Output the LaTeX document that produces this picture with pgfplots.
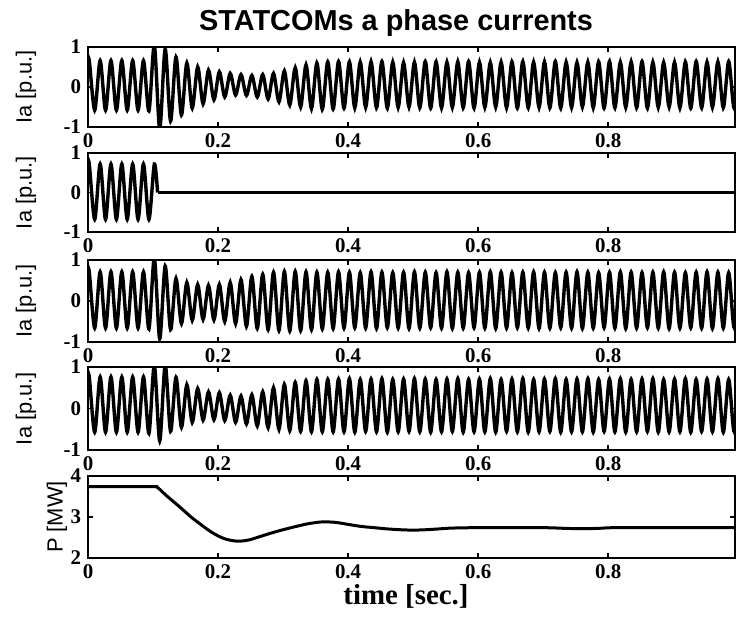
\documentclass[border=0pt]{standalone}
\usepackage{fontspec}
\setmainfont{Liberation Serif}
\setsansfont{Liberation Sans}
\usepackage{pgfplots}
\usepackage{pgfplotstable}
\pgfplotsset{compat=1.18}

% peak/trough samples of the a-phase currents (60 Hz), STATCOM 1, 3, 4
\pgfplotstableread{
t      a      c      d
0.0000  0.62  0.67  0.72
0.0020  0.66  0.71  0.76
0.0103 -0.58 -0.66 -0.57
0.0187  0.66  0.71  0.76
0.0270 -0.58 -0.66 -0.57
0.0353  0.66  0.71  0.76
0.0437 -0.58 -0.66 -0.57
0.0520  0.66  0.71  0.76
0.0603 -0.58 -0.66 -0.57
0.0687  0.66  0.71  0.76
0.0770 -0.58 -0.66 -0.57
0.0853  0.66  0.71  0.76
0.0937 -0.60 -0.68 -0.60
0.1020  1.05  1.05  1.05
0.1103 -1.05 -0.92 -0.78
0.1187  0.95  0.85  1.05
0.1270 -0.85 -0.70 -0.55
0.1353  0.75  0.55  0.75
0.1437 -0.70 -0.55 -0.45
0.1520  0.60  0.45  0.57
0.1603 -0.53 -0.47 -0.33
0.1687  0.50  0.40  0.48
0.1770 -0.42 -0.45 -0.28
0.1853  0.42  0.38  0.40
0.1937 -0.32 -0.46 -0.27
0.2020  0.38  0.40  0.38
0.2103 -0.25 -0.50 -0.29
0.2187  0.34  0.45  0.32
0.2270 -0.20 -0.55 -0.33
0.2353  0.31  0.52  0.30
0.2437 -0.21 -0.62 -0.37
0.2520  0.29  0.60  0.33
0.2603 -0.25 -0.67 -0.42
0.2687  0.31  0.65  0.40
0.2770 -0.30 -0.70 -0.46
0.2853  0.34  0.70  0.50
0.2937 -0.37 -0.72 -0.50
0.3020  0.40  0.72  0.58
0.3103 -0.45 -0.73 -0.53
0.3187  0.48  0.72  0.63
0.3270 -0.50 -0.72 -0.55
0.3353  0.55  0.71  0.67
0.3437 -0.54 -0.70 -0.56
0.3520  0.60  0.70  0.70
0.3603 -0.56 -0.68 -0.56
0.3687  0.63  0.70  0.70
0.3770 -0.55 -0.67 -0.56
0.3853  0.64  0.71  0.71
0.3937 -0.53 -0.66 -0.56
0.4020  0.63  0.70  0.72
0.4103 -0.52 -0.65 -0.57
0.4187  0.62  0.69  0.70
0.4270 -0.51 -0.66 -0.55
0.4353  0.63  0.71  0.71
0.4437 -0.52 -0.67 -0.56
0.4520  0.64  0.70  0.72
0.4603 -0.53 -0.65 -0.57
0.4687  0.62  0.69  0.70
0.4770 -0.51 -0.66 -0.56
0.4853  0.61  0.70  0.71
0.4937 -0.50 -0.67 -0.55
0.5020  0.62  0.71  0.72
0.5103 -0.52 -0.66 -0.56
0.5187  0.64  0.70  0.71
0.5270 -0.53 -0.65 -0.57
0.5353  0.63  0.69  0.70
0.5437 -0.52 -0.66 -0.56
0.5520  0.62  0.71  0.71
0.5603 -0.51 -0.67 -0.55
0.5687  0.63  0.70  0.72
0.5770 -0.52 -0.66 -0.57
0.5853  0.64  0.69  0.70
0.5937 -0.53 -0.65 -0.56
0.6020  0.62  0.70  0.71
0.6103 -0.51 -0.66 -0.56
0.6187  0.61  0.71  0.72
0.6270 -0.50 -0.67 -0.57
0.6353  0.62  0.70  0.70
0.6437 -0.52 -0.66 -0.55
0.6520  0.63  0.69  0.71
0.6603 -0.53 -0.65 -0.56
0.6687  0.64  0.70  0.72
0.6770 -0.52 -0.66 -0.57
0.6853  0.62  0.71  0.70
0.6937 -0.51 -0.67 -0.56
0.7020  0.63  0.70  0.71
0.7103 -0.52 -0.66 -0.55
0.7187  0.64  0.69  0.72
0.7270 -0.53 -0.65 -0.57
0.7353  0.62  0.70  0.70
0.7437 -0.51 -0.66 -0.56
0.7520  0.61  0.71  0.71
0.7603 -0.50 -0.67 -0.56
0.7687  0.62  0.70  0.72
0.7770 -0.52 -0.66 -0.57
0.7853  0.63  0.69  0.70
0.7937 -0.53 -0.65 -0.55
0.8020  0.64  0.70  0.71
0.8103 -0.52 -0.66 -0.56
0.8187  0.62  0.71  0.72
0.8270 -0.51 -0.67 -0.57
0.8353  0.63  0.70  0.70
0.8437 -0.52 -0.66 -0.56
0.8520  0.64  0.69  0.71
0.8603 -0.53 -0.65 -0.55
0.8687  0.62  0.70  0.72
0.8770 -0.51 -0.66 -0.57
0.8853  0.61  0.71  0.70
0.8937 -0.50 -0.67 -0.56
0.9020  0.62  0.70  0.71
0.9103 -0.52 -0.66 -0.56
0.9187  0.63  0.69  0.72
0.9270 -0.53 -0.65 -0.57
0.9353  0.64  0.70  0.70
0.9437 -0.52 -0.66 -0.55
0.9520  0.62  0.71  0.71
0.9603 -0.51 -0.67 -0.56
0.9687  0.63  0.70  0.72
0.9770 -0.52 -0.66 -0.57
0.9853  0.64  0.69  0.70
0.9937 -0.53 -0.65 -0.56
1.0020  0.62  0.70  0.71
}\iadata

% power of the generator
\pgfplotstableread{
t     p
0.000 3.74
0.100 3.74
0.106 3.73
0.112 3.65
0.120 3.53
0.140 3.26
0.160 2.98
0.170 2.86
0.180 2.74
0.190 2.63
0.200 2.54
0.210 2.47
0.220 2.43
0.230 2.41
0.240 2.42
0.250 2.45
0.260 2.50
0.280 2.60
0.300 2.69
0.320 2.77
0.340 2.84
0.360 2.88
0.380 2.87
0.400 2.82
0.420 2.77
0.440 2.74
0.460 2.71
0.480 2.69
0.500 2.68
0.520 2.69
0.540 2.71
0.560 2.73
0.600 2.74
0.700 2.74
0.740 2.72
0.780 2.72
0.810 2.74
0.900 2.74
0.995 2.74
}\pdata

\pgfplotsset{
  panel/.style={
    scale only axis, width=323.5bp, anchor=north west,
    xmin=0, xmax=0.995,
    xtick={0,0.2,0.4,0.6,0.8}, xticklabels={0,0.2,0.4,0.6,0.8},
    tick align=inside, major tick length=2.5bp,
    every tick/.style={black, line width=0.8bp},
    axis line style={line width=1bp},
    ticklabel style={font=\bfseries\fontsize{10.5}{12}\selectfont},
    ylabel style={font=\sffamily\fontsize{11}{13}\selectfont, anchor=center},
  },
  iapanel/.style={
    panel, ymin=-1, ymax=1,
    ytick={-1,0,1}, yticklabels={-1,0,1},
    ylabel={Ia [p.u.]},
    ylabel style={at={(axis description cs:-0.096,0.5)}},
  },
  wave/.style={black, line width=1.7bp, smooth, no marks},
}

\begin{document}
\begin{tikzpicture}
\useasboundingbox (0,0) rectangle (368.5bp,-309bp);

\node[font=\sffamily\bfseries\fontsize{14.5}{16}\selectfont, anchor=base]
  at (198bp,-15bp) {STATCOMs a phase currents};

\begin{axis}[iapanel, at={(44bp,-23.5bp)}, height=40bp]
\addplot[wave] table[x=t, y=a] {\iadata};
\end{axis}

\begin{axis}[iapanel, at={(44bp,-76.5bp)}, height=39.5bp]
\addplot[wave] coordinates {(0,0.68) (0.002,0.72) (0.0103,-0.68) (0.0187,0.72)
  (0.027,-0.68) (0.0353,0.72) (0.0437,-0.68) (0.052,0.72) (0.0603,-0.68)
  (0.0687,0.72) (0.077,-0.68) (0.0853,0.72) (0.0937,-0.68) (0.102,0.72)
  (0.107,0)};
\addplot[black, line width=1.5bp, no marks] coordinates {(0.107,0) (0.995,0)};
\end{axis}

\begin{axis}[iapanel, at={(44bp,-130bp)}, height=41bp]
\addplot[wave] table[x=t, y=c] {\iadata};
\end{axis}

\begin{axis}[iapanel, at={(44bp,-183.5bp)}, height=41.5bp]
\addplot[wave] table[x=t, y=d] {\iadata};
\end{axis}

\begin{axis}[panel, at={(44bp,-238bp)}, height=41bp,
  ymin=2, ymax=4, ytick={2,3,4}, yticklabels={2,3,4},
  ylabel={P [MW]},
  ylabel style={at={(axis description cs:-0.048,0.5)}},
  xlabel={time [sec.]},
  xlabel style={font=\bfseries\fontsize{14.5}{16}\selectfont,
    at={(axis description cs:0.4915,-0.573)}, anchor=base}]
\addplot[black, line width=1.5bp, smooth, no marks] table[x=t, y=p] {\pdata};
\end{axis}
\end{tikzpicture}
\end{document}
